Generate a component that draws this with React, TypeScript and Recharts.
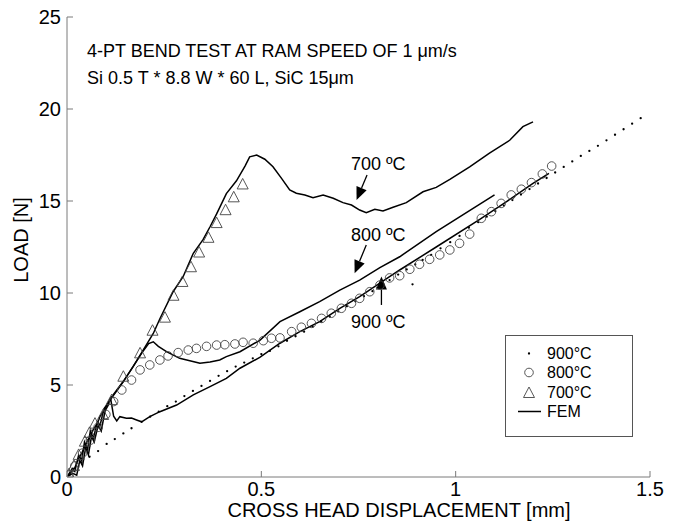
import React from 'react';
import {
  ComposedChart,
  Line,
  Scatter,
  XAxis,
  YAxis,
  ReferenceLine,
  ReferenceDot,
  Legend,
  Customized,
} from 'recharts';

const FONT = '"Liberation Sans", Arial, Helvetica, sans-serif';
const AX = '#7a7a7a';

const xTicks = [0, 0.5, 1, 1.5];
const yTicks = [0, 5, 10, 15, 20, 25];

const titleLines = ['4-PT BEND TEST AT RAM SPEED OF 1 \u03bcm/s', 'Si 0.5 T * 8.8 W * 60 L, SiC 15\u03bcm'];
const legendLabels = ['900\u00b0C', '800\u00b0C', '700\u00b0C', 'FEM'];

// FEM curves
const fem700X = [0, 0.012, 0.02, 0.03, 0.038, 0.045, 0.053, 0.06, 0.068, 0.078, 0.085, 0.095, 0.111, 0.145, 0.17, 0.196, 0.222, 0.239, 0.273, 0.299, 0.325, 0.35, 0.368, 0.385, 0.41, 0.436, 0.458, 0.47, 0.488, 0.509, 0.53, 0.552, 0.573, 0.59, 0.612, 0.633, 0.659, 0.685, 0.71, 0.732, 0.753, 0.77, 0.792, 0.813, 0.839, 0.873, 0.916, 0.95, 0.985, 1.036, 1.087, 1.139, 1.173, 1.199];
const fem700Y = [0, 0.4, 0.3, 1.2, 0.9, 1.9, 1.5, 2.5, 2.1, 3.0, 2.8, 3.7, 4.18, 5.18, 6.0, 6.9, 7.8, 8.6, 10.07, 10.9, 12.16, 12.9, 13.6, 14.3, 15.4, 16.1, 16.9, 17.4, 17.5, 17.27, 16.86, 16.23, 15.6, 15.42, 15.33, 15.18, 15.33, 15.15, 14.91, 14.78, 14.51, 14.36, 14.55, 14.46, 14.66, 14.91, 15.5, 15.74, 16.18, 16.86, 17.6, 18.3, 19.04, 19.3];

const fem800X = [0, 0.012, 0.02, 0.03, 0.038, 0.045, 0.053, 0.06, 0.068, 0.078, 0.085, 0.095, 0.111, 0.145, 0.17, 0.196, 0.21, 0.222, 0.235, 0.256, 0.29, 0.342, 0.368, 0.393, 0.41, 0.445, 0.496, 0.548, 0.599, 0.65, 0.702, 0.753, 0.805, 0.856, 0.95, 1.1];
const fem800Y = [0, 0.3, 0.5, 1.0, 1.3, 1.6, 2.0, 2.2, 2.6, 2.9, 3.3, 3.6, 4.25, 5.2, 6.0, 6.85, 7.25, 7.35, 7.1, 6.81, 6.45, 6.18, 6.25, 6.36, 6.54, 6.81, 7.43, 8.44, 8.98, 9.53, 10.16, 10.7, 11.38, 11.97, 13.33, 15.33];

const fem900X = [0, 0.015, 0.025, 0.033, 0.04, 0.048, 0.055, 0.063, 0.07, 0.08, 0.088, 0.098, 0.106, 0.112, 0.116, 0.12, 0.128, 0.136, 0.153, 0.166, 0.179, 0.192, 0.213, 0.239, 0.282, 0.325, 0.368, 0.41, 0.445, 0.496, 0.548, 0.599, 0.65, 0.702, 0.753, 0.805, 0.856, 0.95, 1.062, 1.13, 1.199, 1.24];
const fem900Y = [0, 0.2, 0.1, 0.9, 0.6, 1.6, 1.2, 2.2, 1.9, 2.8, 2.5, 3.6, 3.9, 4.3, 3.8, 3.3, 3.05, 3.28, 3.19, 3.2, 3.1, 3.0, 3.28, 3.55, 3.91, 4.46, 4.91, 5.36, 5.91, 6.5, 7.27, 7.9, 8.44, 9.17, 9.8, 10.53, 11.25, 12.5, 14.0, 14.95, 15.96, 16.5];

// Experimental markers
const exp700X = [0.005, 0.018, 0.03, 0.046, 0.058, 0.072, 0.093, 0.115, 0.145, 0.188, 0.22, 0.252, 0.274, 0.297, 0.319, 0.34, 0.364, 0.385, 0.408, 0.429, 0.452];
const exp700Y = [0.15, 0.6, 1.2, 1.92, 2.4, 2.9, 3.37, 4.18, 5.45, 6.72, 7.95, 8.66, 9.85, 10.6, 11.4, 12.2, 13.0, 13.8, 14.5, 15.2, 15.9];

const exp800X = [0.005, 0.02, 0.04, 0.06, 0.08, 0.1, 0.12, 0.141, 0.166, 0.188, 0.213, 0.239, 0.26, 0.286, 0.312, 0.333, 0.359, 0.385, 0.406, 0.432, 0.453, 0.479, 0.505, 0.526, 0.548, 0.578, 0.603, 0.629, 0.655, 0.68, 0.706, 0.732, 0.753, 0.779, 0.805, 0.83, 0.856, 0.882, 0.907, 0.933, 0.959, 0.985, 1.01, 1.036, 1.066, 1.092, 1.117, 1.143, 1.169, 1.195, 1.223, 1.247];
const exp800Y = [0.1, 0.6, 1.3, 2.0, 2.7, 3.4, 4.1, 4.73, 5.27, 5.82, 6.09, 6.36, 6.58, 6.76, 6.9, 6.99, 7.1, 7.17, 7.19, 7.23, 7.32, 7.27, 7.41, 7.54, 7.56, 7.9, 8.14, 8.35, 8.62, 8.9, 9.17, 9.44, 9.71, 10.07, 10.43, 10.82, 10.94, 11.29, 11.56, 11.83, 12.07, 12.34, 12.7, 13.2, 14.06, 14.42, 14.87, 15.33, 15.64, 16.0, 16.47, 16.9];

const exp900X = [0.015, 0.037, 0.058, 0.08, 0.102, 0.123, 0.145, 0.166, 0.192, 0.214, 0.236, 0.258, 0.28, 0.302, 0.324, 0.346, 0.368, 0.39, 0.412, 0.434, 0.456, 0.478, 0.5, 0.522, 0.544, 0.566, 0.588, 0.61, 0.632, 0.654, 0.676, 0.698, 0.72, 0.742, 0.764, 0.786, 0.808, 0.83, 0.852, 0.874, 0.889, 0.896, 0.915, 0.937, 0.961, 0.986, 1.01, 1.034, 1.058, 1.08, 1.102, 1.124, 1.146, 1.168, 1.19, 1.212, 1.234, 1.256, 1.278, 1.3, 1.322, 1.344, 1.366, 1.388, 1.41, 1.432, 1.454, 1.476];
const exp900Y = [0.45, 0.8, 1.1, 1.41, 1.8, 2.06, 2.37, 2.65, 3.0, 3.28, 3.55, 3.85, 4.1, 4.4, 4.68, 4.95, 5.22, 5.5, 5.75, 6.0, 6.22, 6.45, 6.68, 6.85, 7.1, 7.4, 7.65, 7.9, 8.17, 8.45, 8.72, 9.0, 9.28, 9.55, 9.83, 10.1, 10.4, 10.7, 11.0, 11.28, 10.47, 11.55, 11.8, 12.07, 12.43, 12.76, 13.1, 13.55, 13.85, 14.15, 14.45, 14.75, 15.05, 15.35, 15.65, 15.95, 16.25, 16.55, 16.85, 17.15, 17.45, 17.72, 18.0, 18.3, 18.6, 18.9, 19.2, 19.5];

// Annotations (data coordinates)
const annTexts = ['700 \u00baC', '800 \u00baC', '900 \u00baC'];
const annTail = [[0.772, 16.41], [0.77, 12.61], [0.809, 9.35]];
const annTip = [[0.745, 15.05], [0.74, 11.07], [0.809, 10.89]];
const annLabel = [[0.801, 17.01], [0.801, 13.2], [0.801, 8.44]];

const pts = (xs: number[], ys: number[]) => xs.map((x, i) => ({ x, y: ys[i] }));
const fem700 = pts(fem700X, fem700Y);
const fem800 = pts(fem800X, fem800Y);
const fem900 = pts(fem900X, fem900Y);
const exp700 = pts(exp700X, exp700Y);
const exp800 = pts(exp800X, exp800Y);
const exp900 = pts(exp900X, exp900Y);

const triPts = (cx: number, cy: number, s: number) =>
  `${cx},${cy - s * 0.6} ${cx - s * 0.55},${cy + s * 0.45} ${cx + s * 0.55},${cy + s * 0.45}`;

const TriShape = (p: any) => (
  <polygon points={triPts(p.cx, p.cy, 10)} fill="none" stroke="#444" strokeWidth={0.9} />
);
const CircShape = (p: any) => <circle cx={p.cx} cy={p.cy} r={4.3} fill="none" stroke="#444" strokeWidth={0.9} />;
const DotShape = (p: any) => <circle cx={p.cx} cy={p.cy} r={1.15} fill="#000" />;

const LeftTick = (p: any) => (
  <g>
    <line x1={p.x + 6} x2={p.x + 12} y1={p.y} y2={p.y} stroke={AX} />
    <text x={p.x} y={p.y} dy="0.36em" textAnchor="end" fontSize={20} fontFamily={FONT} fill="#000">
      {p.payload.value}
    </text>
  </g>
);
const BottomTick = (p: any) => (
  <g>
    <line x1={p.x} x2={p.x} y1={p.y - 4} y2={p.y - 10} stroke={AX} />
    <text x={p.x} y={p.y} dy="0.74em" textAnchor="middle" fontSize={20} fontFamily={FONT} fill="#000">
      {p.payload.value}
    </text>
  </g>
);
const TopTick = (p: any) => <line x1={p.x} x2={p.x} y1={p.y} y2={p.y + 6} stroke={AX} />;
const RightTick = (p: any) => <line x1={p.x} x2={p.x - 6} y1={p.y} y2={p.y} stroke={AX} />;

const arrowShape = (p: any) => {
  const { x1, y1, x2, y2 } = p;
  const dx = x2 - x1;
  const dy = y2 - y1;
  const len = Math.sqrt(dx * dx + dy * dy) || 1;
  const ux = dx / len;
  const uy = dy / len;
  const hl = 13;
  const hw = 5.5;
  const bx = x2 - ux * hl;
  const by = y2 - uy * hl;
  const nx = -uy;
  const ny = ux;
  return (
    <g>
      <line x1={x1} y1={y1} x2={bx} y2={by} stroke="#000" strokeWidth={1.3} />
      <polygon points={`${x2},${y2} ${bx + nx * hw},${by + ny * hw} ${bx - nx * hw},${by - ny * hw}`} fill="#000" />
    </g>
  );
};

const LegendBox = () => (
  <div
    style={{
      width: 128,
      height: 102,
      border: '1px solid #555',
      background: '#fff',
      boxSizing: 'border-box',
      fontFamily: FONT,
      fontSize: 16,
      paddingTop: 8,
    }}
  >
    {legendLabels.map((lab, i) => (
      <div key={lab} style={{ display: 'flex', alignItems: 'center', height: 19.3 }}>
        <svg width={40} height={19} style={{ flex: 'none' }}>
          {i === 0 && <circle cx={23} cy={9.5} r={1.15} fill="#000" />}
          {i === 1 && <circle cx={23} cy={9.5} r={4.3} fill="none" stroke="#444" strokeWidth={0.9} />}
          {i === 2 && <polygon points={triPts(23, 10, 10)} fill="none" stroke="#444" strokeWidth={0.9} />}
          {i === 3 && <line x1={12} x2={35} y1={9.5} y2={9.5} stroke="#000" strokeWidth={1.5} />}
        </svg>
        <span style={{ marginLeft: 1, color: '#000', lineHeight: '19px' }}>{lab}</span>
      </div>
    ))}
  </div>
);

const TitleText = () => (
  <g fontFamily={FONT} fontSize={18} fill="#000">
    <text x={87} y={57}>{titleLines[0]}</text>
    <text x={87} y={84}>{titleLines[1]}</text>
  </g>
);

export default function App() {
  return (
    <div style={{ position: 'absolute', left: 0, top: 0, width: 679, height: 525, background: '#fff' }}>
      <ComposedChart width={679} height={525} margin={{ top: 17, right: 29, bottom: 0, left: 0 }}>
        <XAxis
          xAxisId={0}
          type="number"
          dataKey="x"
          domain={[0, 1.5]}
          ticks={xTicks}
          interval={0}
          allowDataOverflow
          height={48}
          tickSize={0}
          tickMargin={4}
          tickLine={false}
          axisLine={{ stroke: AX }}
          tick={BottomTick}
          label={{
            content: () => (
              <text x={399} y={517} textAnchor="middle" fontSize={20} fontFamily={FONT} fill="#000">
                CROSS HEAD DISPLACEMENT [mm]
              </text>
            ),
          }}
        />
        <XAxis
          xAxisId="top"
          orientation="top"
          type="number"
          dataKey="x"
          domain={[0, 1.5]}
          ticks={xTicks}
          interval={0}
          height={0}
          tickSize={0}
          tickMargin={0}
          tickLine={false}
          axisLine={{ stroke: AX }}
          tick={TopTick}
        />
        <YAxis
          yAxisId={0}
          type="number"
          dataKey="y"
          domain={[0, 25]}
          ticks={yTicks}
          interval={0}
          allowDataOverflow
          width={67}
          tickSize={0}
          tickMargin={6}
          tickLine={false}
          axisLine={{ stroke: AX }}
          tick={LeftTick}
          label={{
            content: () => (
              <text
                x={28}
                y={240}
                transform="rotate(-90 28 240)"
                textAnchor="middle"
                fontSize={20}
                fontFamily={FONT}
                fill="#000"
              >
                LOAD [N]
              </text>
            ),
          }}
        />
        <YAxis
          yAxisId="right"
          orientation="right"
          type="number"
          domain={[0, 25]}
          ticks={yTicks}
          interval={0}
          width={0}
          tickSize={0}
          tickMargin={0}
          tickLine={false}
          axisLine={{ stroke: AX }}
          tick={RightTick}
        />

        <Scatter data={exp900} dataKey="y" shape={DotShape} isAnimationActive={false} />
        <Scatter data={exp800} dataKey="y" shape={CircShape} isAnimationActive={false} />
        <Scatter data={exp700} dataKey="y" shape={TriShape} isAnimationActive={false} />

        <Line data={fem700} dataKey="y" type="linear" dot={false} stroke="#000" strokeWidth={1.5} isAnimationActive={false} />
        <Line data={fem800} dataKey="y" type="linear" dot={false} stroke="#000" strokeWidth={1.5} isAnimationActive={false} />
        <Line data={fem900} dataKey="y" type="linear" dot={false} stroke="#000" strokeWidth={1.5} isAnimationActive={false} />

        {annTexts.map((t, i) => (
          <ReferenceLine
            key={'a' + i}
            segment={[
              { x: annTail[i][0], y: annTail[i][1] },
              { x: annTip[i][0], y: annTip[i][1] },
            ]}
            shape={arrowShape}
          />
        ))}
        {annTexts.map((t, i) => (
          <ReferenceDot
            key={'t' + i}
            x={annLabel[i][0]}
            y={annLabel[i][1]}
            r={0}
            shape={(p: any) => (
              <text x={p.cx} y={p.cy} dy="0.36em" textAnchor="middle" fontSize={18} fontFamily={FONT} fill="#000">
                {t}
              </text>
            )}
          />
        ))}

        <Customized component={TitleText} />
        <Legend
          layout="horizontal"
          verticalAlign="middle"
          align="center"
          content={LegendBox}
          wrapperStyle={{ position: 'absolute', left: 505, top: 335, width: 128, height: 102 }}
        />
      </ComposedChart>
    </div>
  );
}
